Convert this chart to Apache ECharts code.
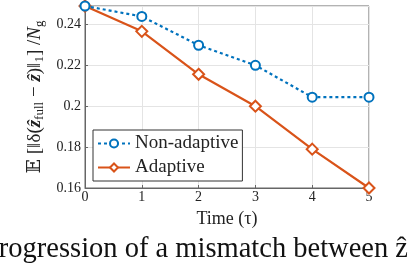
<!DOCTYPE html>
<html><head><meta charset="utf-8">
<script src="https://cdn.jsdelivr.net/npm/echarts@6/dist/echarts.min.js"></script>
<style>html,body{margin:0;padding:0;background:#fff}#c{width:408px;height:264px}</style>
</head><body><div id="c"></div>
<script>
const times = [0, 1, 2, 3, 4, 5];
const nonAdaptive = [0.249, 0.2439, 0.2298, 0.2200, 0.2044, 0.2044];
const adaptive = [0.249, 0.2366, 0.2156, 0.2000, 0.1790, 0.1600];
const seriesNames = ['Non-adaptive', 'Adaptive'];
const xTicks = [0, 1, 2, 3, 4, 5];
const yTicks = [0.16, 0.18, 0.2, 0.22, 0.24];
const caption = 'Progression of a mismatch between ';

const serif = '"Liberation Serif", "DejaVu Serif", serif';
const chart = echarts.init(document.getElementById('c'));
const pair = (xs, ys) => xs.map((x, i) => [x, ys[i]]);
chart.setOption({
  animation: false,
  grid: {left: 85, right: 39, top: 6, bottom: 76, show: true, borderColor: '#666', borderWidth: 1, backgroundColor: 'transparent'},
  xAxis: {
    type: 'value', min: xTicks[0], max: xTicks[xTicks.length - 1], interval: 1,
    name: 'Time (τ)', nameLocation: 'middle', nameGap: 22,
    nameTextStyle: {fontFamily: serif, fontSize: 18, color: '#222'},
    axisLine: {show: true, lineStyle: {color: '#666'}},
    axisTick: {show: true, inside: true, length: 3, lineStyle: {color: '#666'}},
    axisLabel: {fontFamily: serif, fontSize: 14, color: '#222', margin: 2},
    splitLine: {show: true, lineStyle: {color: '#e4e4e4'}}
  },
  yAxis: {
    type: 'value', min: yTicks[0], max: 0.249, interval: 0.02,
    name: '{m|𝔼} [‖δ({b|ẑ}{s|full} − {b|ẑ})‖{s|1}] /{i|N}{s|g}', nameLocation: 'middle', nameGap: 36, nameRotate: 90,
    nameTextStyle: {fontFamily: serif, fontSize: 19, color: '#222',
      rich: {
        m: {fontFamily: serif, fontSize: 19, color: '#222'},
        b: {fontFamily: serif, fontSize: 19, fontStyle: 'italic', fontWeight: 'bold', color: '#222'},
        i: {fontFamily: serif, fontSize: 19, fontStyle: 'italic', color: '#222'},
        s: {fontFamily: serif, fontSize: 13, color: '#222', verticalAlign: 'bottom', padding: [8, 0, 0, 0]}
      }},
    axisLine: {show: true, lineStyle: {color: '#666'}},
    axisTick: {show: true, inside: true, length: 3, lineStyle: {color: '#666'}},
    axisLabel: {fontFamily: serif, fontSize: 14, color: '#222', margin: 4, showMaxLabel: false,
      formatter: v => String(parseFloat(v.toFixed(2)))},
    splitLine: {show: true, lineStyle: {color: '#e4e4e4'}}
  },
  legend: {
    orient: 'vertical', left: 93, top: 130, width: 150,
    backgroundColor: '#fff', borderColor: '#333', borderWidth: 1, borderRadius: 0,
    padding: [4, 4, 4, 4], itemGap: 5, itemWidth: 32, itemHeight: 10,
    textStyle: {fontFamily: serif, fontSize: 19, color: '#222'},
    data: seriesNames
  },
  series: [
    {name: seriesNames[0], type: 'line', data: pair(times, nonAdaptive), color: '#0072BD',
      lineStyle: {width: 2.2, type: [3, 3]}, symbol: 'emptyCircle', symbolSize: 9,
      itemStyle: {borderWidth: 2.2, color: '#0072BD'}, z: 3},
    {name: seriesNames[1], type: 'line', data: pair(times, adaptive), color: '#D95319',
      lineStyle: {width: 2.2}, symbol: 'emptyDiamond', symbolSize: 11,
      itemStyle: {borderWidth: 2.2, color: '#D95319'}, z: 2}
  ],
  graphic: [{type: 'text', left: -17, top: 235,
    style: {text: caption + 'ẑ', font: '28.5px ' + serif, fill: '#111'}}]
});
</script></body></html>
